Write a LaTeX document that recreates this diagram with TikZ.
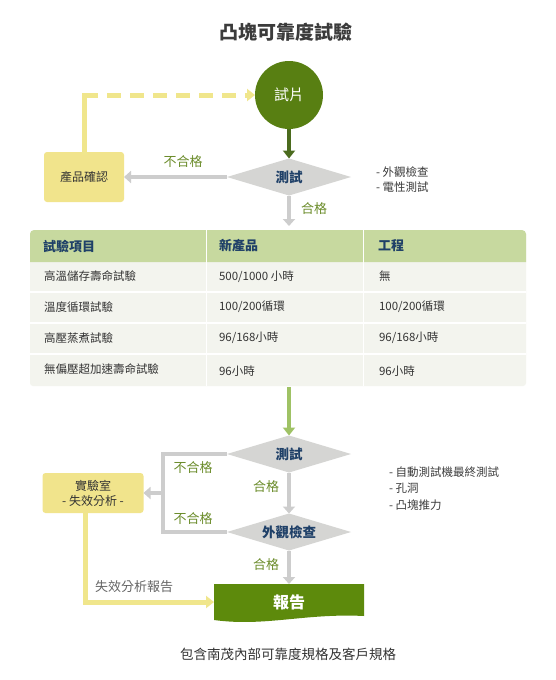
\documentclass[tikz,border=0pt]{standalone}
\usepackage{fontspec}
\setmainfont{Noto Sans CJK TC}
\usetikzlibrary{shapes.geometric,arrows.meta}
\definecolor{titlegray}{HTML}{3B3B3B}
\definecolor{circgreen}{HTML}{587F12}
\definecolor{rptgreen}{HTML}{5D8A0C}
\definecolor{darrow}{HTML}{4B6B1E}
\definecolor{diafill}{HTML}{D5D5D3}
\definecolor{garrow}{HTML}{CDCDCD}
\definecolor{navy}{HTML}{1F4068}
\definecolor{olive}{HTML}{6B8C2A}
\definecolor{yelbox}{HTML}{F1E48C}
\definecolor{yelline}{HTML}{F0E68C}
\definecolor{hdr}{HTML}{C7D99F}
\definecolor{rowfill}{HTML}{F3F4EE}
\definecolor{lgarrow}{HTML}{9FC265}
\definecolor{txt}{HTML}{333333}
\definecolor{notegray}{HTML}{3C3C3C}
\tikzset{
  diabox/.style={diamond, aspect=3.4, fill=diafill, minimum width=124pt, minimum height=37pt, inner sep=0pt,
    font=\fontsize{13.5}{15}\selectfont\bfseries, text=navy},
  yelnode/.style={fill=yelbox, rounded corners=3pt, font=\fontsize{12}{15}\selectfont, text=txt, align=center},
  lbl/.style={font=\fontsize{13}{15}\selectfont, text=olive},
  note/.style={font=\fontsize{11.5}{14}\selectfont, text=notegray, anchor=west},
  gline/.style={draw=garrow, line width=4pt},
  garr/.style={draw=garrow, line width=4pt, -{Triangle[width=12pt,length=7pt]}},
  yline/.style={draw=yelline, line width=5pt},
  hdrtxt/.style={font=\fontsize{13}{15}\selectfont\bfseries, text=navy, anchor=west},
  celltxt/.style={font=\fontsize{11.5}{14}\selectfont, text=txt, anchor=west},
}
\begin{document}
\begin{tikzpicture}[x=1pt,y=-1pt, every node/.style={inner sep=0pt, outer sep=0pt}]
\useasboundingbox[fill=white] (0,0) rectangle (555,680);

% title
\node[font=\fontsize{19}{21}\selectfont\bfseries, text=titlegray] (title) at (286,32) {凸塊可靠度試驗};

% top section
\node[circle, fill=circgreen, minimum size=68pt, font=\fontsize{15}{17}\selectfont, text=white] (circ) at (289,95) {試片};
\node[diabox] (d1) at (289,177) {測試};
\node[yelnode, minimum width=80pt, minimum height=50pt] (prod) at (84,177) {產品確認};

\draw[draw=darrow, line width=4pt, -{Triangle[width=12pt,length=8pt]}] (circ.south) -- (d1.north);
\draw[garr] (d1.west) -- (prod.east);
\node[lbl] (ng1) at (183,162) {不合格};

\coordinate (c1) at (84,95);
\draw[yline, line cap=rect] (prod.north) -- (c1);
\draw[yline, dash pattern=on 14pt off 9pt, -{Triangle[width=12pt,length=8pt]}] (c1) -- (circ.west);

\node[note] (n1) at (376,172) {- 外觀檢查};
\node[note] (n2) at (376,187) {- 電性測試};

\coordinate (tabtop) at (289,226);
\draw[garr] (d1.south) -- (tabtop);
\node[lbl] (ok1) at (314,209) {合格};

% table
\fill[rowfill, rounded corners=3pt] (30,231) rectangle (526,386);
\fill[hdr] (30,262) {[rounded corners=4pt] -- (30,230) -- (526,230)} -- (526,262) -- cycle;
\foreach \yy in {292,323,354} \draw[white, line width=1.5pt] (30,\yy) -- (526,\yy);
\foreach \xx in {206,363} \draw[white, line width=1pt] (\xx,230) -- (\xx,386);

\node[hdrtxt] (h1) at (43,246) {試驗項目};
\node[hdrtxt] (h2) at (219,246) {新產品};
\node[hdrtxt] (h3) at (378,246) {工程};

\node[celltxt] (r1a) at (44,276) {高溫儲存壽命試驗};
\node[celltxt] (r1b) at (219,277) {500/1000 小時};
\node[celltxt] (r1c) at (379,276) {無};
\node[celltxt] (r2a) at (44,307) {溫度循環試驗};
\node[celltxt] (r2b) at (219,307) {100/200循環};
\node[celltxt] (r2c) at (379,307) {100/200循環};
\node[celltxt] (r3a) at (44,338) {高壓蒸煮試驗};
\node[celltxt] (r3b) at (219,338) {96/168小時};
\node[celltxt] (r3c) at (379,338) {96/168小時};
\node[celltxt] (r4a) at (44,369) {無偏壓超加速壽命試驗};
\node[celltxt] (r4b) at (219,371) {96小時};
\node[celltxt] (r4c) at (379,371) {96小時};

% lower section
\node[diabox] (d2) at (289,454) {測試};
\node[diabox] (d3) at (289,532) {外觀檢查};
\node[yelnode, minimum width=101pt, minimum height=40pt] (lab) at (93,493) {實驗室\\- 失效分析 -};

\coordinate (tabbot) at (289,387);
\draw[draw=lgarrow, line width=4pt, -{Triangle[width=12pt,length=8pt]}] (tabbot) -- (d2.north);

\coordinate (b1) at (163,454);
\coordinate (b2) at (163,532);
\coordinate (b3) at (163,493);
\draw[gline, line join=miter] (d2.west) -- (b1) -- (b2) -- (d3.west);
\draw[garr] (b3) -- (lab.east);
\node[lbl] (ng2) at (193,468) {不合格};
\node[lbl] (ng3) at (193,519) {不合格};

\draw[garr] (d2.south) -- (d3.north);
\node[lbl] (ok2) at (266,487) {合格};

\fill[rptgreen] (214,584) -- (364,584) -- (364,616) .. controls (305,613) and (265,627) .. (214,620) -- cycle;
\node[minimum width=150pt, minimum height=36pt, font=\fontsize{16}{18}\selectfont\bfseries, text=white] (rpt) at (289,602) {報告};

\draw[garr] (d3.south) -- (rpt.north);
\node[lbl] (ok3) at (266,565) {合格};

\coordinate (y1) at (85,602);
\draw[yline, line join=miter, -{Triangle[width=12pt,length=8pt]}] (lab.south -| y1) -- (y1) -- (rpt.west);
\node[font=\fontsize{13}{15}\selectfont, text=black!60] (fr) at (134,587) {失效分析報告};

\node[note] (n3) at (389,472) {- 自動測試機最終測試};
\node[note] (n4) at (389,488) {- 孔洞};
\node[note] (n5) at (389,505) {- 凸塊推力};

\node[font=\fontsize{13.5}{16}\selectfont, text=txt] (foot) at (288,654) {包含南茂內部可靠度規格及客戶規格};
\end{tikzpicture}
\end{document}
